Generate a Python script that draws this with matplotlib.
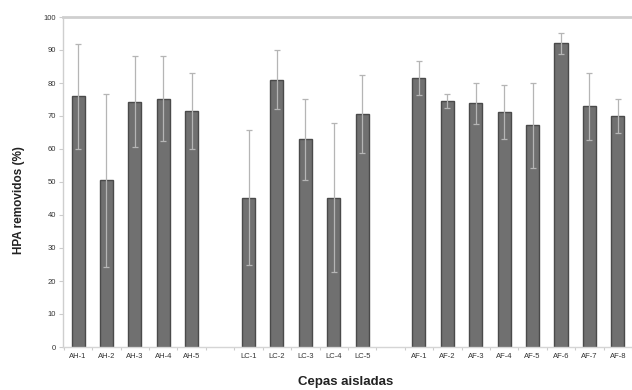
import numpy as np
import matplotlib
matplotlib.use("Agg")
import matplotlib.pyplot as plt

plt.rcParams['font.family'] = ['Liberation Sans', 'DejaVu Sans']

# Strains grouped by origin; an empty slot separates each group
groups = [
    ["AH-1", "AH-2", "AH-3", "AH-4", "AH-5"],
    ["LC-1", "LC-2", "LC-3", "LC-4", "LC-5"],
    ["AF-1", "AF-2", "AF-3", "AF-4", "AF-5", "AF-6", "AF-7", "AF-8"],
]
removal_ah = [76.0, 50.5, 74.3, 75.3, 71.5]
removal_lc = [45.3, 81.0, 62.9, 45.3, 70.7]
removal_af = [81.6, 74.5, 73.8, 71.3, 67.2, 92.1, 72.9, 69.9]
sd_ah = [15.9, 26.2, 13.8, 13.0, 11.6]
sd_lc = [20.6, 9.0, 12.3, 22.7, 11.8]
sd_af = [5.2, 2.2, 6.3, 8.2, 12.9, 3.2, 10.1, 5.1]
yticks = list(range(0, 101, 10))

labels = [s for g in groups for s in g]
values = removal_ah + removal_lc + removal_af
errors = sd_ah + sd_lc + sd_af

# x positions with one empty slot between groups
positions = []
start = 0
for g in groups:
    positions += list(range(start, start + len(g)))
    start += len(g) + 1
positions = np.array(positions)

fig = plt.figure(figsize=(6.32, 3.90), dpi=100)
ax = fig.add_axes([63 / 632, 1 - 347 / 390, (632 - 63) / 632, (347 - 17) / 390])

ax.bar(positions, values, width=0.46, color='#707070', edgecolor='#4a4a4a',
       linewidth=1.0, zorder=2)
ax.errorbar(positions, values, yerr=errors, fmt='none', ecolor='#b5b5b5',
            elinewidth=0.9, capsize=2, capthick=0.9, zorder=3)

ax.set_xlim(-0.53, 19.17)
ax.set_ylim(0, 100)
ax.set_yticks(yticks)
ax.set_yticklabels([str(t) for t in yticks])
ax.set_xticks(positions)
ax.set_xticklabels(labels)
ax.set_xticks(np.arange(-0.5, 19.6, 1.0), minor=True)

ax.tick_params(axis='y', labelsize=5.5, labelcolor='#333333', length=3,
               width=0.8, pad=2, color='#cccccc')
ax.tick_params(axis='x', which='major', labelsize=5.5, labelcolor='#333333',
               length=0, pad=4)
ax.tick_params(axis='x', which='minor', length=2, width=0.8, color='#cccccc')

ax.spines['right'].set_visible(False)
ax.spines['top'].set_color('#cfcfcf')
ax.spines['top'].set_linewidth(2.0)
ax.spines['left'].set_color('#cfcfcf')
ax.spines['left'].set_linewidth(1.0)
ax.spines['bottom'].set_color('#d5d5d5')
ax.spines['bottom'].set_linewidth(1.0)

ax.set_ylabel('HPA removidos (%)', fontsize=8.5, fontweight='bold',
              color='#222222')
ax.yaxis.set_label_coords(-0.078, 0.445)
ax.yaxis.label.set_va('center')
ax.set_xlabel('Cepas aisladas', fontsize=9.5, fontweight='bold',
              color='#222222')
ax.xaxis.set_label_coords(0.497, -0.106)
ax.xaxis.label.set_va('center')

fig.savefig('out.png', dpi=100)
